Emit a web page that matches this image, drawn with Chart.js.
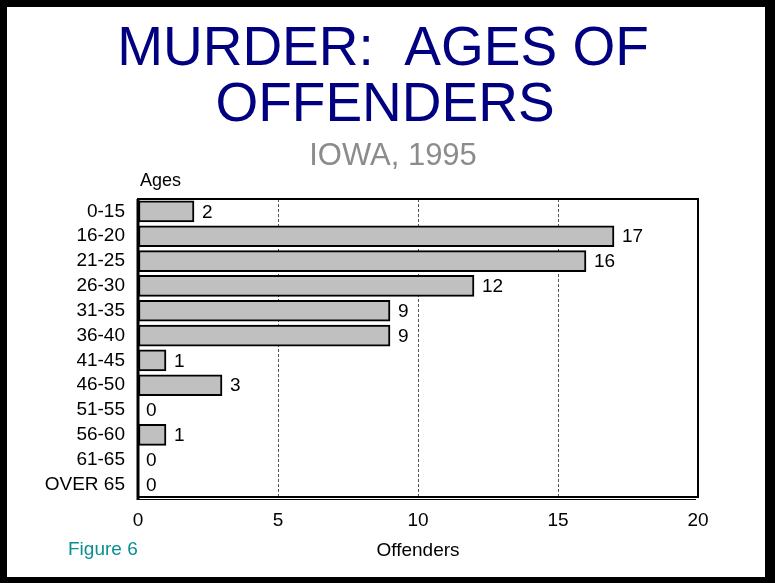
<!DOCTYPE html>
<html>
<head>
<meta charset="utf-8">
<script src="https://cdn.jsdelivr.net/npm/chart.js@4/dist/chart.umd.min.js"></script>
<style>
  html, body { margin: 0; padding: 0; background: #fff; }
  #wrap { width: 775px; height: 583px; position: relative; }
</style>
</head>
<body>
<div id="wrap"><canvas id="chart" width="775" height="583"></canvas></div>
<script>
// chart data
const ageGroups = ['0-15', '16-20', '21-25', '26-30', '31-35', '36-40', '41-45', '46-50', '51-55', '56-60', '61-65', 'OVER 65'];
const offenders = [2, 17, 16, 12, 9, 9, 1, 3, 0, 1, 0, 0];
const xTicks = [0, 5, 10, 15, 20];

const titleLines = ['MURDER:  AGES OF', 'OFFENDERS'];
const subTitle = 'IOWA, 1995';
const FONT = '"Liberation Sans", Arial, sans-serif';

// page frame, titles and side notes
const decorPlugin = {
    id: 'decor',
    beforeDraw(chart) {
        const ctx = chart.ctx;
        ctx.save();
        ctx.fillStyle = '#000';
        ctx.fillRect(0, 0, 775, 583);
        ctx.fillStyle = '#fff';
        ctx.fillRect(7, 7, 758, 570);
        ctx.restore();
    },
    afterDraw(chart) {
        const ctx = chart.ctx;
        const area = chart.chartArea;
        ctx.save();
        ctx.textAlign = 'center';
        ctx.textBaseline = 'alphabetic';
        ctx.fillStyle = '#000080';
        ctx.font = '55px ' + FONT;
        ctx.fillText(titleLines[0], 383, 65);
        ctx.fillText(titleLines[1], 385, 121);
        ctx.fillStyle = '#8c8c8c';
        ctx.font = '31px ' + FONT;
        ctx.fillText(subTitle, 393, 165);

        ctx.textAlign = 'left';
        ctx.fillStyle = '#000';
        ctx.font = '18px ' + FONT;
        ctx.fillText('Ages', 140, 186);

        ctx.fillStyle = '#0a8f8f';
        ctx.font = '19px ' + FONT;
        ctx.fillText('Figure 6', 68, 555);

        // plot frame
        ctx.strokeStyle = '#000';
        ctx.lineWidth = 2;
        ctx.strokeRect(area.left, area.top, area.right - area.left, area.bottom - area.top);
        ctx.lineWidth = 1;
        ctx.beginPath();
        ctx.moveTo(area.left, area.bottom + 2.5);
        ctx.lineTo(area.right - 2, area.bottom + 2.5);
        ctx.stroke();
        ctx.lineWidth = 3;
        ctx.beginPath();
        ctx.moveTo(area.left, area.top);
        ctx.lineTo(area.left, area.bottom + 3);
        ctx.stroke();
        ctx.restore();
    }
};

// value labels next to each bar
const valueLabels = {
    id: 'valueLabels',
    afterDatasetsDraw(chart) {
        const ctx = chart.ctx;
        const meta = chart.getDatasetMeta(0);
        const xScale = chart.scales.x;
        ctx.save();
        ctx.font = '19px ' + FONT;
        ctx.fillStyle = '#000';
        ctx.textAlign = 'left';
        ctx.textBaseline = 'middle';
        meta.data.forEach((bar, i) => {
            const x = xScale.getPixelForValue(offenders[i]) + 8;
            ctx.fillText(String(offenders[i]), x, bar.y + 1);
        });
        ctx.restore();
    }
};

new Chart(document.getElementById('chart'), {
    type: 'bar',
    data: {
        labels: ageGroups,
        datasets: [{
            data: offenders,
            backgroundColor: '#c0c0c0',
            borderColor: '#000',
            borderWidth: 2,
            borderSkipped: false,
            barThickness: 21
        }]
    },
    options: {
        indexAxis: 'y',
        responsive: false,
        animation: false,
        events: [],
        layout: { padding: { top: 199, right: 77, left: 0, bottom: 0 } },
        plugins: {
            legend: { display: false },
            tooltip: { enabled: false }
        },
        scales: {
            y: {
                type: 'category',
                grid: { display: false, drawTicks: false },
                border: { display: false },
                ticks: {
                    color: '#000',
                    font: { family: FONT, size: 19 },
                    padding: 13,
                    autoSkip: false
                },
                afterFit(scale) { scale.width = 138; }
            },
            x: {
                min: 0,
                max: 20,
                afterBuildTicks(scale) { scale.ticks = xTicks.map(v => ({ value: v })); },
                grid: {
                    drawTicks: false,
                    lineWidth: 1,
                    color: c => (c.tick && c.tick.value > 0 && c.tick.value < 20) ? '#555' : 'rgba(0,0,0,0)'
                },
                border: { display: false, dash: [3, 2] },
                ticks: {
                    color: '#000',
                    font: { family: FONT, size: 19 },
                    padding: 12
                },
                title: {
                    display: true,
                    text: 'Offenders',
                    color: '#000',
                    font: { family: FONT, size: 19 },
                    padding: { top: 0, bottom: 21 }
                },
                afterFit(scale) { scale.height = 86; }
            }
        }
    },
    plugins: [decorPlugin, valueLabels]
});
</script>
</body>
</html>
